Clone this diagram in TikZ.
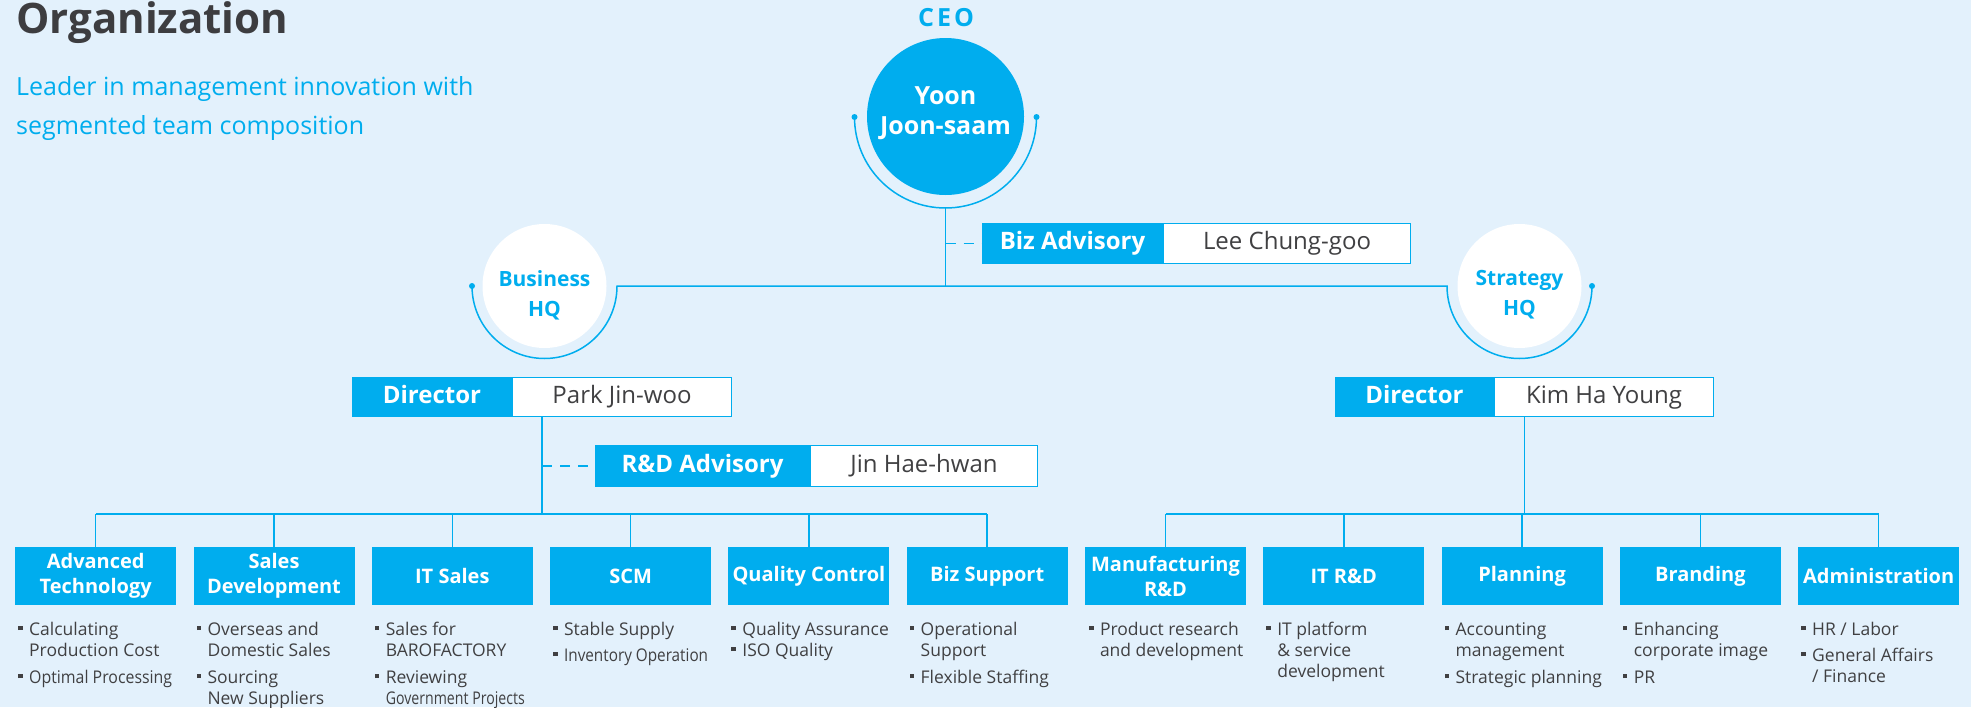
\documentclass[tikz,border=0pt]{standalone}
\usepackage{fontspec}
\usepackage{graphicx}
\setmainfont{Open Sans}
\usetikzlibrary{calc}
\definecolor{bg}{RGB}{227,241,252}
\definecolor{cy}{RGB}{0,173,238}
\definecolor{dk}{RGB}{64,64,66}
\definecolor{tt}{RGB}{61,61,64}
\newcommand{\bsq}{\llap{\rule[4.8pt]{4.5pt}{4.5pt}\hspace{6.5pt}}}
\newcommand{\blist}[1]{\vtop{\baselineskip=21pt \lineskiplimit=-20pt \lineskip=0pt #1}}
\newcommand{\cond}[2]{\resizebox{#1}{\height}{#2}}
\begin{document}
\begin{tikzpicture}[x=1pt,y=-1pt,
  line/.style={draw=cy, line width=1.5pt},
  dsh/.style={draw=cy, line width=1.5pt, dash pattern=on 10pt off 8pt},
  dept/.style={fill=cy, text=white, font=\fontsize{20}{25}\selectfont\bfseries, minimum width=161pt, minimum height=58pt, align=center, inner sep=0pt, anchor=north west},
  lab/.style={fill=cy, draw=cy, line width=1pt, text=white, font=\fontsize{24}{28}\selectfont\bfseries, inner sep=0pt, text height=17pt, text depth=5pt, anchor=north west},
  nam/.style={fill=white, draw=cy, line width=1pt, text=dk, font=\fontsize{24}{28}\selectfont, inner sep=0pt, text height=17pt, text depth=5pt, anchor=north west},
  bl/.style={text=dk, font=\fontsize{17.5}{21}\selectfont, inner sep=0pt, anchor=base west},
  hq/.style={circle, fill=white, minimum size=124pt, inner sep=0pt},
  hqtext/.style={text=cy, inner sep=0pt, font=\fontsize{21}{30}\selectfont\bfseries, align=center},
]
\fill[bg] (0,0) rectangle (1971,707);
\useasboundingbox (0,0) rectangle (1971,707);

% titles
\node[anchor=base west, inner sep=0pt, text=tt, font=\fontsize{42}{50}\selectfont\bfseries] (title) at (16,33) {Organization};
\node[anchor=base west, inner sep=0pt, text=cy, font=\fontsize{25}{39}\selectfont, align=left] (sub) at (16,95) {\vtop{\baselineskip=39pt\hbox{Leader in management innovation with}\hbox{segmented team composition}}};

% CEO
\node[text=cy, inner sep=0pt, font=\fontsize{25}{30}\selectfont\bfseries\addfontfeatures{LetterSpace=12}] (ceolab) at (946,18) {CEO};
\node[circle, fill=cy, minimum size=157pt, inner sep=0pt] (ceo) at (945.5,116.5) {};
\node[text=white, inner sep=0pt, font=\fontsize{25}{30}\selectfont\bfseries, align=center] (ceotext) at ($(ceo.center)+(0,-3)$) {Yoon\\Joon-saam};
\coordinate (ceoL) at (854.5,117);
\coordinate (ceoR) at (1036.5,117);
\coordinate (ceoB) at (945.5,208);
\draw[line] (ceoL) arc[start angle=180, end angle=360, radius=91pt];
\fill[cy] (ceoL) circle (3pt) (ceoR) circle (3pt);

% HQ circles
\node[hq] (bhq) at (544.5,286) {};
\node[hqtext] (bhqtext) at ($(bhq.center)+(0,9)$) {Business\\HQ};
\node[hq] (shq) at (1519.5,286) {};
\node[hqtext] (shqtext) at ($(shq.center)+(0,9)$) {Strategy\\HQ};
\coordinate (bhqL) at (472,286);
\coordinate (bhqR) at (617,286);
\coordinate (shqL) at (1447,286);
\coordinate (shqR) at (1592,286);
\draw[line] (bhqL) arc[start angle=180, end angle=360, radius=72.5pt] -- (shqL) arc[start angle=180, end angle=360, radius=72.5pt];
\fill[cy] (bhqL) circle (3pt) (shqR) circle (3pt);
\draw[line] (ceoB) -- (ceoB |- bhqR);

% Biz advisory
\node[lab, minimum width=180pt, minimum height=40pt] (bizL) at (982,223) {Biz Advisory};
\node[nam, minimum width=247pt, minimum height=40pt] (bizN) at (bizL.north east) {Lee Chung-goo};
\draw[dsh] (ceoB |- bizL.west) -- (bizL.west);

% Directors
\node[lab, minimum width=159pt, minimum height=39pt] (bdirL) at (352,377) {Director};
\node[nam, minimum width=219pt, minimum height=39pt] (bdirN) at (bdirL.north east) {Park Jin-woo};
\node[lab, minimum width=158pt, minimum height=39pt] (sdirL) at (1335,377) {Director};
\node[nam, minimum width=219pt, minimum height=39pt] (sdirN) at (sdirL.north east) {Kim Ha Young};
\coordinate (bdirB) at ($(bdirL.south west)!0.5!(bdirN.south east)$);
\coordinate (sdirB) at ($(sdirL.south west)!0.5!(sdirN.south east)$);

% R&D advisory
\node[lab, minimum width=214pt, minimum height=41pt] (rdL) at (595,445) {R\&D Advisory};
\node[nam, minimum width=227pt, minimum height=41pt] (rdN) at (rdL.north east) {Jin Hae-hwan};
\draw[dsh] (bdirB |- rdL.west) -- (rdL.west);

% departments
\node[dept] (d0) at (15,547) {Advanced\\Technology};
\node[dept] (d1) at (193.3,547) {Sales\\Development};
\node[dept] (d2) at (371.6,547) {IT Sales};
\node[dept] (d3) at (549.9,547) {SCM};
\node[dept] (d4) at (728.2,547) {Quality Control};
\node[dept] (d5) at (906.5,547) {Biz Support};
\node[dept] (d6) at (1084.8,547) {Manufacturing\\R\&D};
\node[dept] (d7) at (1263.1,547) {IT R\&D};
\node[dept] (d8) at (1441.4,547) {Planning};
\node[dept] (d9) at (1619.7,547) {Branding};
\node[dept] (d10) at (1798,547) {Administration};

% tree connectors
\coordinate (lbar) at (0,514);
\draw[line] (bdirB) -- (bdirB |- lbar);
\draw[line] (d0.north |- lbar) -- (d5.north |- lbar);
\foreach \i in {0,...,5} { \draw[line] (d\i.north |- lbar) -- (d\i.north); }
\draw[line] (sdirB) -- (sdirB |- lbar);
\draw[line] (d6.north |- lbar) -- (d10.north |- lbar);
\foreach \i in {6,...,10} { \draw[line] (d\i.north |- lbar) -- (d\i.north); }

% bullet lists
\node[bl] (b0) at (29,635) {\blist{\hbox{\bsq Calculating}\hbox{Production Cost}\vskip6pt\hbox{\bsq\cond{143pt}{Optimal Processing}}}};
\node[bl] (b1) at (207.3,635) {\blist{\hbox{\bsq Overseas and}\hbox{Domestic Sales}\vskip6pt\hbox{\bsq Sourcing}\hbox{New Suppliers}}};
\node[bl] (b2) at (385.6,635) {\blist{\hbox{\bsq Sales for}\hbox{BAROFACTORY}\vskip6pt\hbox{\bsq Reviewing}\hbox{\cond{139pt}{Government Projects}}}};
\node[bl] (b3) at (563.9,635) {\blist{\hbox{\bsq Stable Supply}\vskip5pt\hbox{\bsq\cond{144pt}{Inventory Operation}}}};
\node[bl] (b4) at (742.2,635) {\blist{\hbox{\bsq Quality Assurance}\hbox{\bsq ISO Quality}}};
\node[bl] (b5) at (920.5,635) {\blist{\hbox{\bsq Operational}\hbox{Support}\vskip6pt\hbox{\bsq Flexible Staffing}}};
\node[bl] (b6) at (1099.8,635) {\blist{\hbox{\bsq Product research}\hbox{and development}}};
\node[bl] (b7) at (1277.1,635) {\blist{\hbox{\bsq IT platform}\hbox{\& service}\hbox{development}}};
\node[bl] (b8) at (1455.4,635) {\blist{\hbox{\bsq Accounting}\hbox{management}\vskip6pt\hbox{\bsq Strategic planning}}};
\node[bl] (b9) at (1633.7,635) {\blist{\hbox{\bsq Enhancing}\hbox{corporate image}\vskip6pt\hbox{\bsq PR}}};
\node[bl] (b10) at (1812,635) {\blist{\hbox{\bsq HR / Labor}\vskip5pt\hbox{\bsq General Affairs}\hbox{/ Finance}}};
\end{tikzpicture}
\end{document}
